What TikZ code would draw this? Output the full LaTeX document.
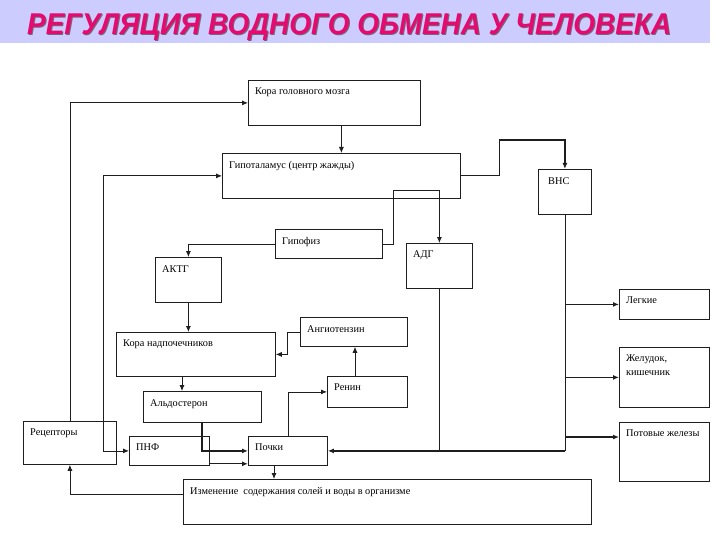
\documentclass[tikz,border=0pt]{standalone}
\usepackage{fontspec}
\setmainfont{Liberation Serif}
\newfontfamily\titlefont{Liberation Sans}
\usepackage{graphicx}
\usepackage{tikz}
\usetikzlibrary{positioning, calc, arrows.meta}
\definecolor{BandColor}{RGB}{204,204,255}
\definecolor{TitleColor}{RGB}{228,10,112}
\definecolor{ShadowColor}{RGB}{120,100,120}
\definecolor{LineColor}{RGB}{30,30,30}
\tikzset{
    blk/.style={
        shape=rectangle,
        draw=LineColor,
        line width=0.8pt,
        anchor=north west,
        inner sep=0pt
    },
    txt/.style={
        anchor=north west,
        inner sep=0pt,
        align=left,
        font=\fontsize{10.3}{14}\selectfont,
        xshift=7pt,
        yshift=-8pt
    },
    arr/.style={-{Latex[length=6pt,width=5pt]}, draw=LineColor, line width=0.8pt},
    biarr/.style={{Latex[length=6pt,width=5pt]}-{Latex[length=6pt,width=5pt]}, draw=LineColor, line width=0.8pt},
    wire/.style={draw=LineColor, line width=0.8pt}
}

\begin{document}
\begin{tikzpicture}[x=1pt, y=-1pt]

\useasboundingbox (0,0) rectangle (720,540);

% Title
\fill[BandColor] (0,0) rectangle (710,43);
\node[anchor=base west, inner sep=0pt, text=ShadowColor] (title_sh) at (28,36)
    {\resizebox{644pt}{21pt}{\titlefont\bfseries\itshape РЕГУЛЯЦИЯ ВОДНОГО ОБМЕНА У ЧЕЛОВЕКА}};
\node[anchor=base west, inner sep=0pt, text=TitleColor] (title) at (27,35)
    {\resizebox{644pt}{21pt}{\titlefont\bfseries\itshape РЕГУЛЯЦИЯ ВОДНОГО ОБМЕНА У ЧЕЛОВЕКА}};

% Brain
\node[blk, minimum width=172pt, minimum height=45pt, label={[txt]north west:Кора головного мозга}] (cortex) at (248,80) {};
\node[blk, minimum width=238pt, minimum height=45pt, label={[txt]north west:Гипоталамус (центр жажды)}] (hypo) at (222,153) {};
\node[blk, minimum width=53pt, minimum height=45pt, label={[txt, xshift=3pt]north west:ВНС}] (vns) at (538,169) {};

% Hormones
\node[blk, minimum width=107pt, minimum height=29pt, label={[txt]north west:Гипофиз}] (pit) at (275,229) {};
\node[blk, minimum width=66pt, minimum height=45pt, label={[txt]north west:АДГ}] (adg) at (406,243) {};
\node[blk, minimum width=66pt, minimum height=45pt, label={[txt]north west:АКТГ}] (actg) at (155,257) {};
\node[blk, minimum width=159pt, minimum height=44pt, label={[txt]north west:Кора надпочечников}] (adrc) at (116,332) {};
\node[blk, minimum width=107pt, minimum height=29pt, label={[txt]north west:Ангиотензин}] (angio) at (300,317) {};
\node[blk, minimum width=80pt, minimum height=31pt, label={[txt]north west:Ренин}] (renin) at (327,376) {};
\node[blk, minimum width=118pt, minimum height=31pt, label={[txt]north west:Альдостерон}] (aldo) at (143,391) {};

% Bottom row
\node[blk, minimum width=93pt, minimum height=43pt, label={[txt]north west:Рецепторы}] (rec) at (23,421) {};
\node[blk, minimum width=80pt, minimum height=29pt, label={[txt]north west:ПНФ}] (pnf) at (129,436) {};
\node[blk, minimum width=79pt, minimum height=29pt, label={[txt]north west:Почки}] (kidney) at (248,436) {};
\node[blk, minimum width=408pt, minimum height=45pt, label={[txt]north west:Изменение\ \ содержания солей и воды в организме}] (change) at (183,479) {};

% Organs
\node[blk, minimum width=90pt, minimum height=30pt, label={[txt]north west:Легкие}] (lungs) at (619,289) {};
\node[blk, minimum width=90pt, minimum height=60pt, label={[txt]north west:Желудок,\\кишечник}] (gut) at (619,347) {};
\node[blk, minimum width=90pt, minimum height=59pt, label={[txt]north west:Потовые железы}] (sweat) at (619,422) {};

% Bends
\coordinate (lbus) at (103,0);
\coordinate (vtop) at (499,140);
\coordinate (pkink) at (393,190);
\coordinate (ax) at (182,0);
\coordinate (dx) at (202,0);
\coordinate (kx) at (274,0);
\coordinate (rx) at (355,0);
\coordinate (sweatin) at ([yshift=-15pt]sweat.north west);

% Connectors
\draw[arr] (rec.north) |- (cortex.west);
\draw[biarr] (pnf.west) -- (pnf.west -| lbus) -- (hypo.west -| lbus) -- (hypo.west);
\draw[arr] (cortex.south -| hypo.north) -- (hypo.north);
\draw[wire] (hypo.east) -| (vtop);
\draw[arr, line width=1.3pt] (vtop) -| (vns.north);
\draw[arr] (pit.east) -| (pkink) -| (adg.north);
\draw[arr] (pit.west) -| (actg.north);
\draw[arr] (actg.south) -- (actg.south |- adrc.north);
\draw[arr] (angio.west) -- ++(-13,0) |- (adrc.east);
\draw[arr] (renin.north -| rx) -- (angio.south -| rx);
\draw[arr] (kidney.north) |- (renin.west);
\draw[arr] (adrc.south -| ax) -- (aldo.north -| ax);
\draw[arr, line width=1.3pt] (aldo.south -| dx) |- (kidney.west);
\draw[arr, line width=1.2pt] ([yshift=2pt]pnf.south east) -- ([yshift=2pt]pnf.south east -| kidney.west);
\draw[wire] (adg.south) -- (adg.south |- kidney.east);
\draw[wire] (vns.south) -- (vns.south |- kidney.east);
\draw[arr, line width=1.3pt] (vns.south |- kidney.east) -- (kidney.east);
\draw[arr, line width=1.2pt] (vns.south |- lungs.west) -- (lungs.west);
\draw[arr, line width=1.2pt] (vns.south |- gut.west) -- (gut.west);
\draw[arr, line width=1.2pt] (vns.south |- sweatin) -- (sweatin);
\draw[arr] (kidney.south -| kx) -- (change.north -| kx);
\draw[arr] ([yshift=8pt]change.west) -| (rec.south);

\end{tikzpicture}
\end{document}
